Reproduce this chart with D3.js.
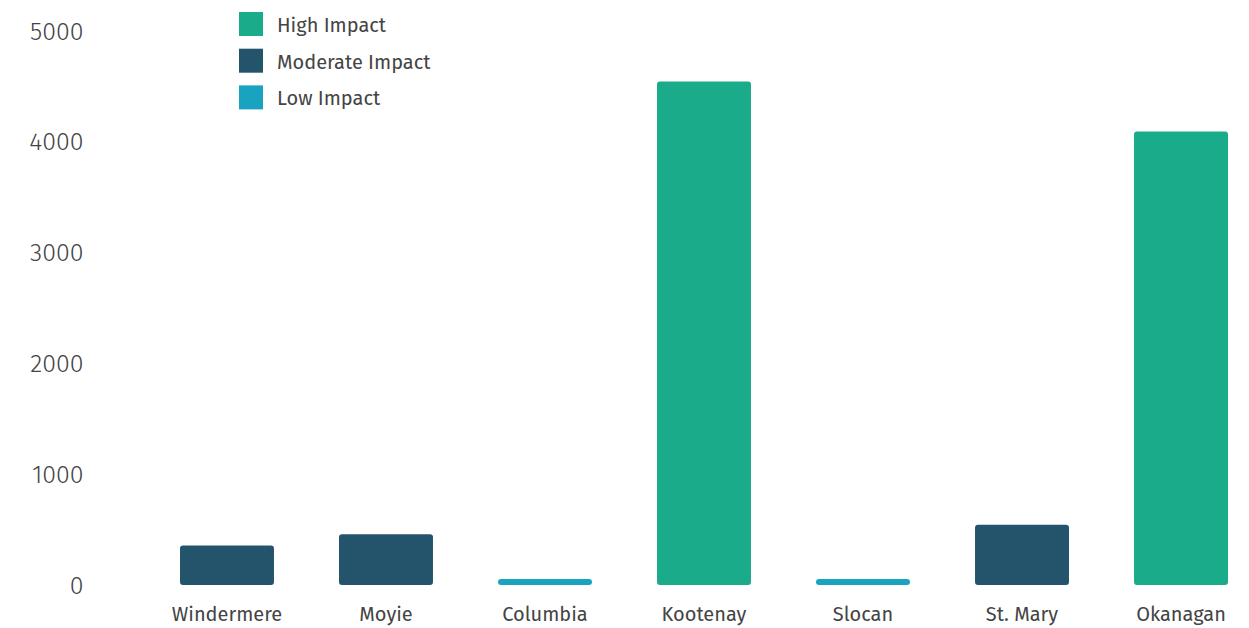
<!DOCTYPE html>
<html><head><meta charset="utf-8">
<script src="https://cdn.jsdelivr.net/npm/d3@7"></script>
<style>
body{margin:0;background:#fff;}
text{font-family:"Fira Sans","Noto Sans","Open Sans",sans-serif;fill:#444;font-weight:400;}
</style></head>
<body><svg id="c" width="1249" height="628"></svg>
<script>
const categories = ["Windermere","Moyie","Columbia","Kootenay","Slocan","St. Mary","Okanagan"];
const values = [357, 457, 55, 4545, 55, 544, 4094];
const impacts = ["Moderate Impact","Moderate Impact","Low Impact","High Impact","Low Impact","Moderate Impact","High Impact"];
const legendLabels = ["High Impact","Moderate Impact","Low Impact"];
const legendColors = ["#1aab8b","#23546b","#19a3bf"];
const yTicks = [0,1000,2000,3000,4000,5000];

const svg = d3.select("#c");
const color = d3.scaleOrdinal().domain(legendLabels).range(legendColors);
const x = d3.scaleBand().domain(categories).range([180,1228]).paddingInner(0.409).paddingOuter(0);
const y = d3.scaleLinear().domain([0,5000]).range([585,31]);

// bars
svg.append("g").selectAll("rect").data(categories).join("rect")
  .attr("x", d=>x(d))
  .attr("width", x.bandwidth())
  .attr("y", (d,i)=>y(values[i]))
  .attr("height", (d,i)=>y(0)-y(values[i]))
  .attr("rx",3).attr("ry",3)
  .attr("fill",(d,i)=>color(impacts[i]));

// y axis
const ya = svg.append("g").attr("transform","translate(83.5,0)")
  .call(d3.axisLeft(y).tickValues(yTicks).tickFormat(d3.format("d")).tickSize(0).tickPadding(0));
ya.select(".domain").remove();
ya.selectAll("text").style("font-size","25px").style("font-weight","300").attr("fill","#3a3a3a");

// x axis
const xa = svg.append("g").attr("transform","translate(0,607)")
  .call(d3.axisBottom(x).tickSize(0).tickPadding(0));
xa.select(".domain").remove();
xa.selectAll("text").style("font-size","20px").attr("fill","#444");

// legend
const lg = svg.append("g").selectAll("g").data(legendLabels).join("g")
  .attr("transform",(d,i)=>`translate(239,${12+i*36.7})`);
lg.append("rect").attr("width",24).attr("height",24).attr("fill",d=>color(d));
lg.append("text").attr("x",38).attr("y",13).attr("dy","0.35em")
  .style("font-size","20px").text(d=>d);
</script></body></html>
